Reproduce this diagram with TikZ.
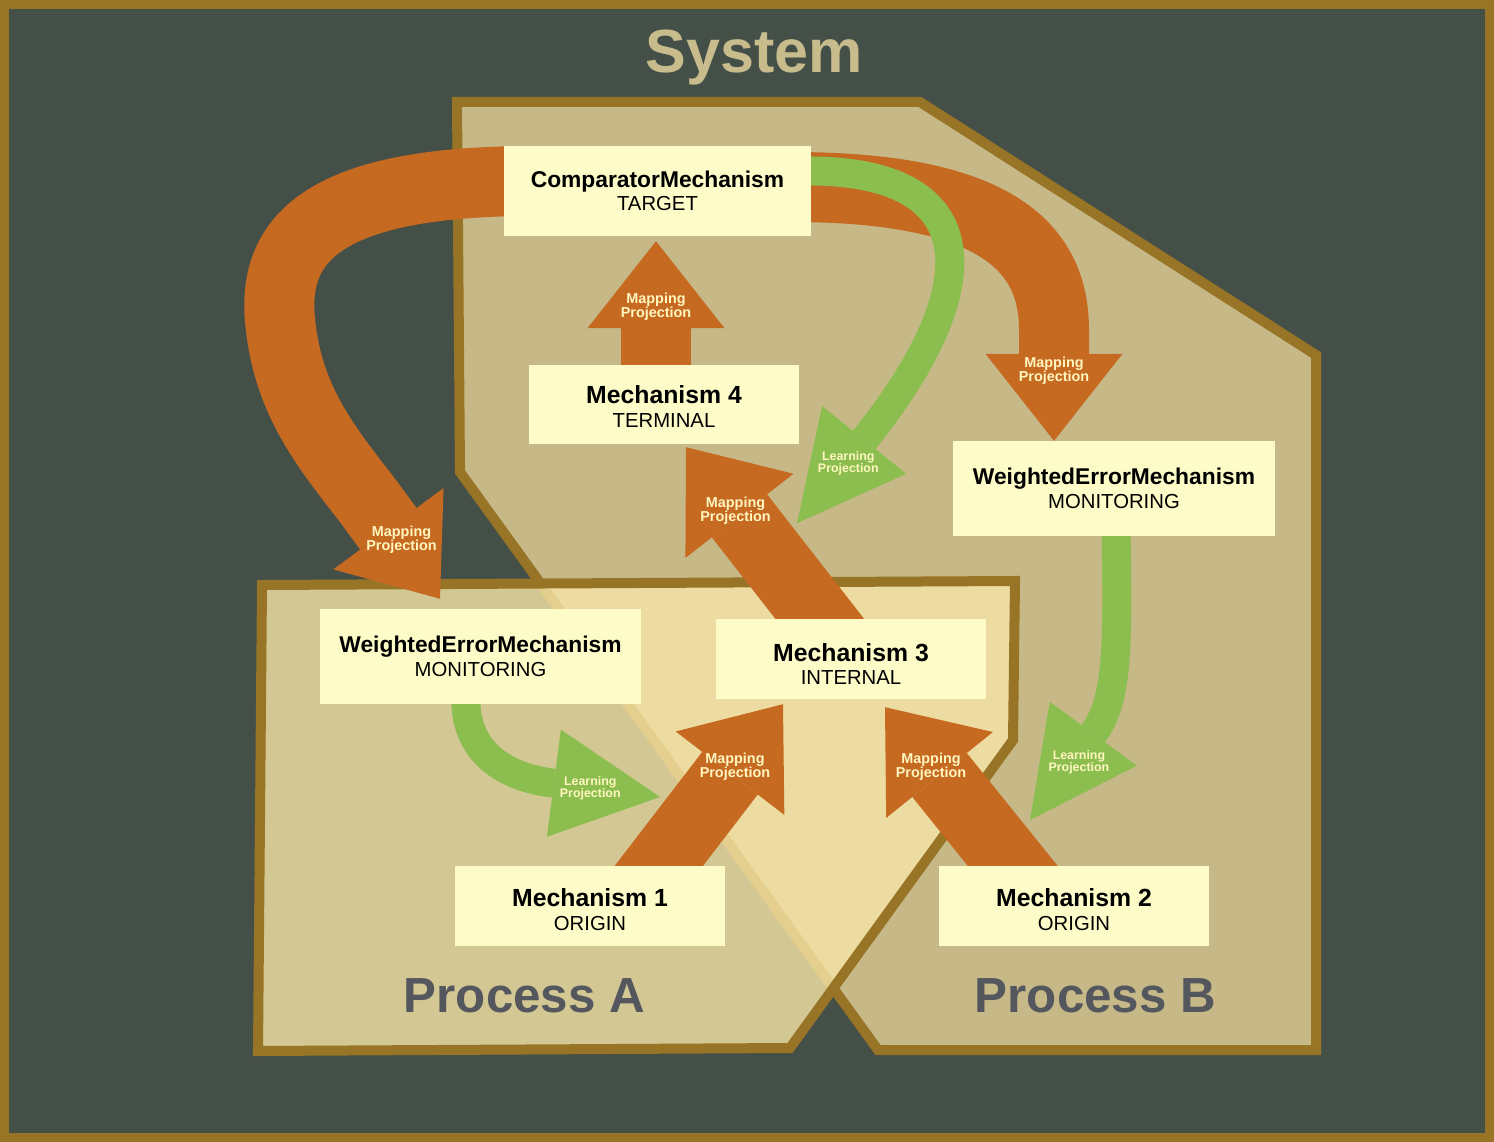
\documentclass[tikz,border=0pt]{standalone}
\usepackage{fontspec}
\setmainfont{Liberation Sans}
\usetikzlibrary{arrows.meta,calc}
\definecolor{framegold}{RGB}{152,116,38}
\definecolor{slate}{RGB}{68,79,72}
\definecolor{khaki}{RGB}{198,184,135}
\definecolor{procfill}{RGB}{247,230,168}
\definecolor{boxcream}{RGB}{253,252,200}
\definecolor{maporange}{RGB}{198,106,33}
\definecolor{learngreen}{RGB}{139,190,78}
\definecolor{lblcream}{RGB}{255,246,192}
\definecolor{proctext}{RGB}{84,87,94}
\definecolor{titlekhaki}{RGB}{200,188,140}
\newcommand{\mechname}[2]{{\fontsize{#1}{23.5}\selectfont\bfseries #2}}
\pgfdeclarelayer{regions}
\pgfdeclarelayer{flows}
\pgfsetlayers{regions,flows,main}
\begin{document}
\begin{tikzpicture}[x=1pt,y=-1pt,
        mech/.style={fill=boxcream,inner sep=0pt,align=center,font=\fontsize{20.3}{23.5}\selectfont},
        mapflow/.style={draw=maporange,line width=70pt,-{Triangle[length=87pt,width=137pt,line width=0pt]}},
        learnflow/.style={draw=learngreen,line width=29pt,-{Triangle[length=107pt,width=108pt,line width=0pt]}},
        maplbl/.style={text=lblcream,inner sep=0pt,align=center,font=\fontsize{14.4}{14}\selectfont\bfseries},
        learnlbl/.style={text=lblcream,inner sep=0pt,align=center,font=\fontsize{12.4}{11.8}\selectfont\bfseries},
        proclbl/.style={text=proctext,anchor=base,font=\fontsize{49.3}{50}\selectfont\bfseries}]
        \useasboundingbox (0,0) rectangle (1494,1142);

        \begin{pgfonlayer}{regions}
        \fill[framegold] (0,0) rectangle (1494,1142);
        \fill[slate] (9,9) rectangle (1485,1133);
        \draw[framegold,line width=10pt,fill=khaki] (457,102) -- (920,102) -- (1316,355) -- (1316,1050) -- (878,1050) -- (460,472) -- cycle;
        \draw[framegold,line width=10pt,fill=procfill,fill opacity=0.8] (262,585) -- (1015,581) -- (1013,740) -- (790,1048) -- (258,1051) -- cycle;
        \end{pgfonlayer}

        \node[anchor=base,text=titlekhaki,font=\fontsize{61}{62}\selectfont\bfseries] (sys) at (754,73) {System};
        \node[proclbl] (pa) at (524.5,1012) {Process A};
        \node[proclbl] (pb) at (1095.5,1012) {Process B};

        \node[mech,minimum width=307pt,minimum height=90pt] (cm) at (657.5,191) {\mechname{22.8}{ComparatorMechanism}\\TARGET};
        \node[mech,minimum width=270pt,minimum height=79pt] (m4) at (664,404.5) {\mechname{24.8}{\rule{0pt}{22pt}Mechanism 4}\\TERMINAL};
        \node[mech,minimum width=322pt,minimum height=95pt] (we2) at (1114,488.5) {\mechname{22.8}{WeightedErrorMechanism}\\MONITORING};
        \node[mech,minimum width=321pt,minimum height=95pt] (we1) at (480.5,656.5) {\mechname{22.8}{WeightedErrorMechanism}\\MONITORING};
        \node[mech,minimum width=270pt,minimum height=80pt] (m3) at (851,659) {\mechname{24.8}{\rule{0pt}{28pt}Mechanism 3}\\INTERNAL};
        \node[mech,minimum width=270pt,minimum height=80pt] (m1) at (590,906) {\mechname{24.8}{\rule{0pt}{25pt}Mechanism 1}\\ORIGIN};
        \node[mech,minimum width=270pt,minimum height=80pt] (m2) at (1074,906) {\mechname{24.8}{\rule{0pt}{25pt}Mechanism 2}\\ORIGIN};

        \coordinate (mp34) at ($(m4.south)+(133,79)$);
        \coordinate (mp13) at ($(m1.center)+(70,-109)$);
        \coordinate (mp23) at ($(m2.center)+(-44,-86)$);

        \begin{pgfonlayer}{flows}
        \draw[mapflow] ($(m4.center)+(-8,0)$) -- node[maplbl,pos=0.6] {Mapping\\Projection} ($(cm.south)+(-1.5,5)$);
        \draw[mapflow] (m3.center) -- node[maplbl,pos=0.7] {Mapping\\Projection} ($(m4.south)+(22,3)$);
        \draw[mapflow] ($(m1.center)+(38,0)$) -- node[maplbl,pos=0.69] {Mapping\\Projection} ($(m3.south)+(-68,5)$);
        \draw[mapflow] ($(m2.center)+(-29,0)$) -- node[maplbl,pos=0.7,xshift=-2pt] {Mapping\\Projection} ($(m3.south)+(34,8)$);
        \draw[mapflow] ($(cm.east)+(-20,-4)$) .. controls (1000,187) and (1054,250) .. (1054,330) -- node[maplbl,pos=0.37] {Mapping\\Projection} ($(we2.north)+(-60,0)$);
        \draw[mapflow] ($(cm.west)+(20,-10)$) .. controls (330,183) and (272,235) .. (280,320) .. controls (287,395) and (320,440) .. (365,497) -- node[maplbl,pos=0.42,xshift=5pt] {Mapping\\Projection} ($(we1.north)+(-40.5,-10)$);

        \draw[learnflow] ($(cm.east)+(-10,-20)$) .. controls (990,168) and (985,290) .. node[learnlbl,pos=0.91,xshift=5pt] {Learning\\Projection} (mp34);
        \draw[learnflow] ($(we1.south)+(-14.5,-10)$) .. controls (462,775) and (545,782) .. node[learnlbl,pos=0.8,xshift=-5pt] {Learning\\Projection} (mp13);
        \draw[learnflow] ($(we2.south)+(2,-10)$) .. controls (1118,650) and (1118,700) .. node[learnlbl,pos=0.8,xshift=6pt,yshift=-7pt] {Learning\\Projection} (mp23);
        \end{pgfonlayer}
    \end{tikzpicture}
\end{document}
